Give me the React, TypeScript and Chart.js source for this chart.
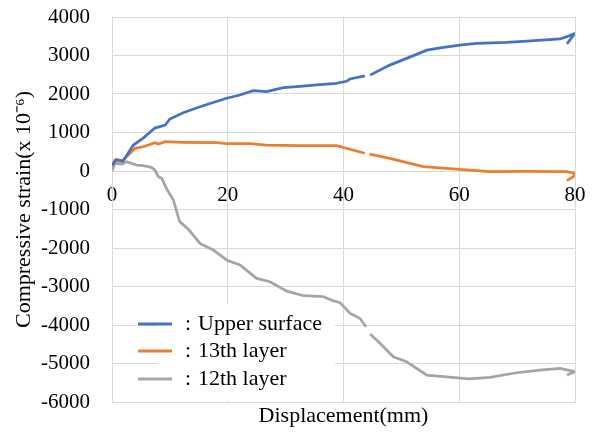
import React, { useEffect, useRef } from "react";
import { Chart, registerables } from "chart.js";

Chart.register(...registerables);

const seriesLabels = ["Upper surface", "13th layer", "12th layer"];
const seriesColors = ["#4472C4", "#ED7D31", "#A5A5A5"];

const xTicks = [0, 20, 40, 60, 80];
const yTicks = [4000, 3000, 2000, 1000, 0, -1000, -2000, -3000, -4000, -5000, -6000];

// Upper surface
const upperX = [0, 0.8, 1.9, 3.7, 5.4, 7.4, 9.2, 10, 12.3, 15.2, 19.8, 22.1, 24.4, 26.7, 29.6, 32.5, 35.4, 38.7, 40.5, 41.1, 43.7, 43.9, 44.6, 48, 50.9, 54.4, 56.7, 60.1, 63, 68.2, 71.7, 77.4, 78.6, 80, 78.6];
const upperY = [150, 300, 260, 675, 855, 1115, 1195, 1350, 1515, 1670, 1890, 1975, 2085, 2060, 2165, 2200, 2235, 2275, 2330, 2390, 2470, null, 2490, 2750, 2925, 3140, 3200, 3270, 3315, 3340, 3375, 3430, 3490, 3575, 3300];

// 13th layer
const layer13X = [0, 0.5, 1.7, 2.5, 4, 5.4, 7.4, 8, 9.2, 12.3, 18.1, 19.8, 23.8, 26.7, 32.5, 38.8, 41.1, 43.7, 43.9, 44.5, 48, 53.8, 60.1, 65.3, 71.1, 78.6, 80, 79.7, 78.6];
const layer13Y = [150, 285, 240, 370, 590, 630, 735, 700, 760, 745, 735, 710, 710, 675, 657, 657, 565, 460, null, 440, 330, 112, 44, -18, -8, -18, -60, -150, -250];

// 12th layer
const layer12X = [0, 0.5, 1.7, 2.5, 4.3, 5.4, 6.8, 7.4, 8, 8.6, 9.4, 10.6, 11.7, 13.2, 15.2, 17.5, 19.8, 22.1, 25, 27.3, 30.2, 33.1, 36.5, 38.2, 39.4, 41.1, 42.8, 43.9, 44.2, 44.6, 46.3, 48.6, 50.9, 54.4, 57.8, 61.6, 65.3, 69.9, 73.9, 77.4, 80, 78.6];
const layer12Y = [0, 200, 180, 240, 155, 138, 96, 26, -148, -190, -450, -755, -1315, -1515, -1880, -2050, -2310, -2440, -2790, -2875, -3120, -3240, -3265, -3370, -3420, -3695, -3825, -4045, null, -4235, -4475, -4825, -4955, -5300, -5345, -5400, -5360, -5240, -5170, -5125, -5215, -5300];

const toPoints = (xs: number[], ys: (number | null)[]) =>
  xs.map((x, i) => ({ x, y: ys[i] }));

const FONT = "'Liberation Serif', 'Times New Roman', serif";
const GRID = "#d9d9d9";

const legendPlugin = {
  id: "insideLegend",
  afterDraw(chart: any) {
    const ctx = chart.ctx;
    ctx.save();
    ctx.fillStyle = "#ffffff";
    ctx.fillRect(158, 304, 177, 97);
    const rows = [324, 351, 379];
    chart.data.datasets.forEach((ds: any, i: number) => {
      const y = rows[i];
      ctx.strokeStyle = ds.borderColor;
      ctx.lineWidth = 3;
      ctx.beginPath();
      ctx.moveTo(138, y);
      ctx.lineTo(172, y);
      ctx.stroke();
      ctx.fillStyle = "#000";
      ctx.font = `22px ${FONT}`;
      ctx.textBaseline = "middle";
      ctx.textAlign = "left";
      ctx.fillText(":", 185, y);
      ctx.fillText(ds.label, 198, y);
    });
    ctx.restore();
  },
};

const plain = (v: any) => String(v);

export default function App() {
  const ref = useRef<HTMLCanvasElement>(null);
  useEffect(() => {
    document.body.style.margin = "0";
    const chart = new Chart(ref.current!, {
      type: "line",
      data: {
        datasets: [
          { label: seriesLabels[0], data: toPoints(upperX, upperY) as any, borderColor: seriesColors[0] },
          { label: seriesLabels[1], data: toPoints(layer13X, layer13Y) as any, borderColor: seriesColors[1] },
          { label: seriesLabels[2], data: toPoints(layer12X, layer12Y) as any, borderColor: seriesColors[2] },
        ].map((d) => ({ ...d, borderWidth: 2.75, pointRadius: 0, tension: 0, spanGaps: false, fill: false })),
      },
      options: {
        animation: false,
        responsive: false,
        layout: { padding: { left: 0, right: 22, top: 17, bottom: 0 } },
        plugins: { legend: { display: false }, tooltip: { enabled: false } },
        scales: {
          x: {
            type: "linear",
            position: "bottom",
            min: 0,
            max: 80,
            afterBuildTicks: (s: any) => { s.ticks = xTicks.map((v) => ({ value: v })); },
            ticks: { display: false },
            grid: { color: GRID, drawTicks: false, lineWidth: 1 },
            border: { color: GRID },
            title: { display: true, text: "Displacement(mm)", color: "#000", font: { family: FONT, size: 22 }, padding: { top: 0, bottom: 3 } },
            afterFit: (s: any) => { s.height = 30; s.paddingLeft = 0; s.paddingRight = 0; },
          },
          x2: {
            type: "linear",
            position: { y: 0 } as any,
            min: 0,
            max: 80,
            afterBuildTicks: (s: any) => { s.ticks = xTicks.map((v) => ({ value: v })); },
            ticks: { color: "#000", font: { family: FONT, size: 21 }, padding: 12, maxRotation: 0, callback: plain },
            grid: { display: false, drawTicks: false },
            border: { display: false },
            afterFit: (s: any) => { s.height = 0; s.paddingLeft = 0; s.paddingRight = 0; },
          },
          y: {
            type: "linear",
            min: -6000,
            max: 4000,
            afterBuildTicks: (s: any) => { s.ticks = yTicks.map((v) => ({ value: v })); },
            ticks: { color: "#000", font: { family: FONT, size: 21 }, padding: 22, callback: plain },
            grid: { color: GRID, drawTicks: false, lineWidth: 1 },
            border: { color: GRID },
            title: { display: true, text: "Compressive strain(x 10⁻⁶)", color: "#000", font: { family: FONT, size: 22 }, padding: { top: 11, bottom: 0 } },
            afterFit: (s: any) => { s.width = 112; s.paddingTop = 0; s.paddingBottom = 0; },
          },
        },
      },
      plugins: [legendPlugin],
    });
    return () => chart.destroy();
  }, []);
  return (
    <div style={{ width: 597, height: 432 }}>
      <canvas ref={ref} width={597} height={432} />
    </div>
  );
}
